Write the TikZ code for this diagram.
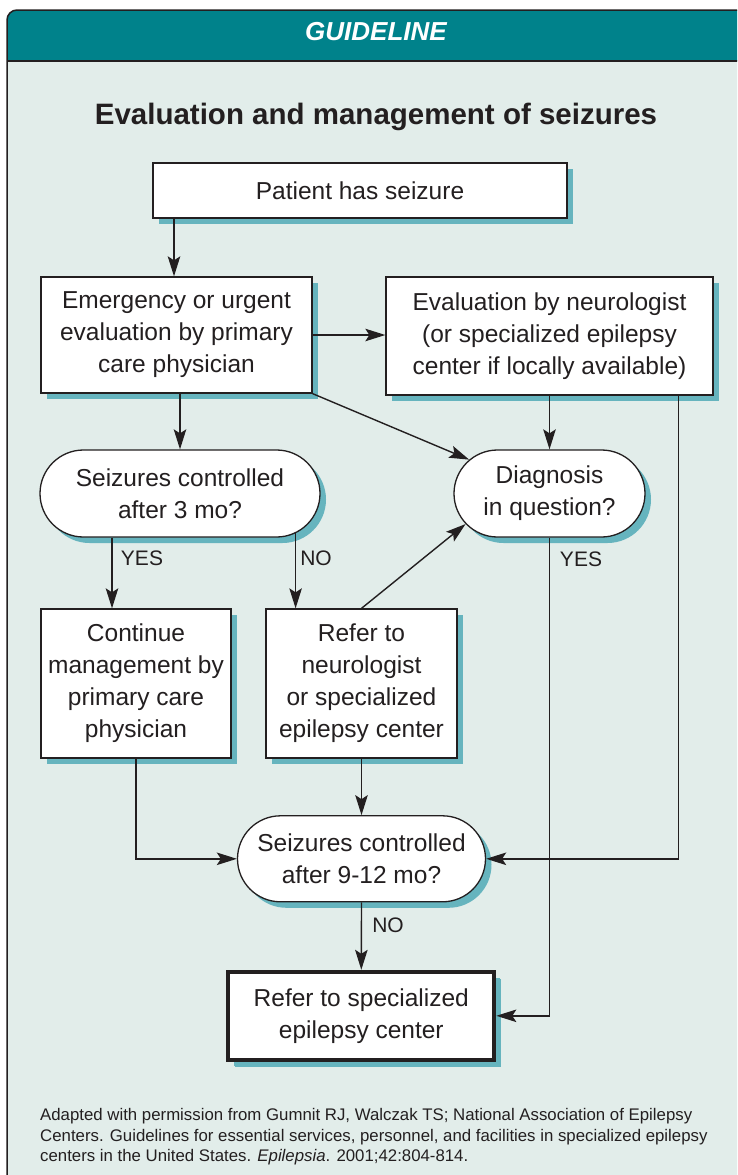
\documentclass[tikz,border=0pt]{standalone}
\usepackage{fontspec}
\setmainfont{Liberation Sans}
\usetikzlibrary{shapes.misc,shadows,arrows.meta,calc}
\definecolor{tealhead}{RGB}{0,130,139}
\definecolor{bgc}{RGB}{226,237,234}
\definecolor{shc}{RGB}{102,180,190}
\definecolor{ink}{RGB}{35,31,32}
\begin{document}
\begin{tikzpicture}[x=1pt,y=-1pt,
  shad/.style={drop shadow={shadow xshift=6pt, shadow yshift=-6pt, fill=shc, opacity=1}},
  boxs/.style={rectangle, draw=ink, line width=1.3pt, fill=white, align=center, text=ink,
    font=\fontsize{24.5}{32}\selectfont, inner sep=0pt, shad},
  stad/.style={rounded rectangle, draw=ink, line width=1.3pt, fill=white, align=center, text=ink,
    font=\fontsize{24.5}{32}\selectfont, inner sep=0pt, shad},
  lab/.style={text=ink, font=\fontsize{21}{24}\selectfont, inner sep=0pt},
  foot/.style={text=ink, font=\fontsize{16.8}{20}\selectfont, inner sep=0pt, anchor=base west},
  arr/.style={draw=ink, line width=1.4pt, -{Stealth[length=20pt,width=12.5pt,inset=4pt]}},
  ln/.style={draw=ink, line width=1.4pt}
]
\useasboundingbox (0,0) rectangle (737,1175);
\clip (0,0) rectangle (737,1175);
\fill[white] (0,0) rectangle (737,1175);
% frame
\begin{scope}
  \clip[rounded corners=10pt] (7,10) rectangle (780,1220);
  \fill[bgc] (0,0) rectangle (780,1220);
  \fill[tealhead] (0,0) rectangle (780,61);
\end{scope}
\draw[ink, line width=1.3pt] (7,61) -- (780,61);
\draw[ink, line width=1.5pt, rounded corners=10pt] (7,10) rectangle (780,1220);

\node[text=white, font=\fontsize{26}{30}\selectfont\bfseries\itshape, inner sep=0pt] (head) at (376,32) {GUIDELINE};
\node[text=ink, font=\fontsize{29.5}{34}\selectfont\bfseries, inner sep=0pt] (title) at (376,117) {Evaluation and management of seizures};

% nodes
\node[boxs, minimum width=414pt, minimum height=55pt] (patient) at (360,190.5) {Patient has seizure};
\node[boxs, minimum width=271pt, minimum height=116pt] (emerg) at (176.5,335) {Emergency or urgent\\evaluation by primary\\care physician};
\node[boxs, minimum width=327pt, minimum height=118pt] (neuro) at (549.5,336) {Evaluation by neurologist\\(or specialized epilepsy\\center if locally available)};
\node[stad, minimum width=280pt, minimum height=87pt] (s3) at (180,493.5) {Seizures controlled\\after 3 mo?};
\node[stad, minimum width=191pt, minimum height=87pt] (diag) at (549.5,493.5) {Diagnosis\\in question?};
\node[boxs, minimum width=190pt, minimum height=149pt] (cont) at (136,683.5) {Continue\\management by\\primary care\\physician};
\node[boxs, minimum width=191pt, minimum height=149pt] (refn) at (361.5,683.5) {Refer to\\neurologist\\or specialized\\epilepsy center};
\node[stad, minimum width=248pt, minimum height=86pt] (s912) at (361.5,858.8) {Seizures controlled\\after 9-12 mo?};
\node[boxs, line width=4pt, minimum width=266pt, minimum height=88pt,
  drop shadow={shadow xshift=7pt, shadow yshift=-7pt, fill=shc, opacity=1}] (refs) at (361.3,1015.8) {Refer to specialized\\epilepsy center};

% connectors
\draw[arr] ([xshift=-2.5pt]emerg.north |- patient.south) -- ([xshift=-2.5pt]emerg.north);
\draw[arr] (emerg.east) -- (emerg.east -| neuro.west);
\draw[arr] (s3.north |- emerg.south) -- (s3.north);
\draw[arr] (emerg.south east) -- (diag);
\draw[arr] (neuro.south) -- (diag.north);
\draw[arr] ([xshift=-35pt]neuro.south east) |- (s912.east);
\draw[arr] ([xshift=-24pt]cont.north |- s3.south) -- ([xshift=-24pt]cont.north);
\draw[arr] (s3.-19.6) -- (s3.-19.6 |- refn.north);
\draw[arr] (refn.north) -- (diag.200);
\draw[arr] (diag.south) |- (refs.east);
\draw[arr] (cont.south) |- (s912.west);
\draw[arr] (refn.south) -- (s912.north);
\draw[arr] (s912.south) -- (refs.north);

% labels
\node[lab] (yes1) at (142,558) {YES};
\node[lab] (no1) at (316,558) {NO};
\node[lab] (yes2) at (581,559) {YES};
\node[lab] (no2) at (388,925) {NO};

% footer
\node[foot] (f1) at (40,1120.5) {Adapted with permission from Gumnit RJ, Walczak TS; National Association of Epilepsy};
\node[foot] (f2) at (40,1141) {Centers. Guidelines for essential services, personnel, and facilities in specialized epilepsy};
\node[foot] (f3) at (40,1161.5) {centers in the United States. \textit{Epilepsia}. 2001;42:804-814.};
\end{tikzpicture}
\end{document}
